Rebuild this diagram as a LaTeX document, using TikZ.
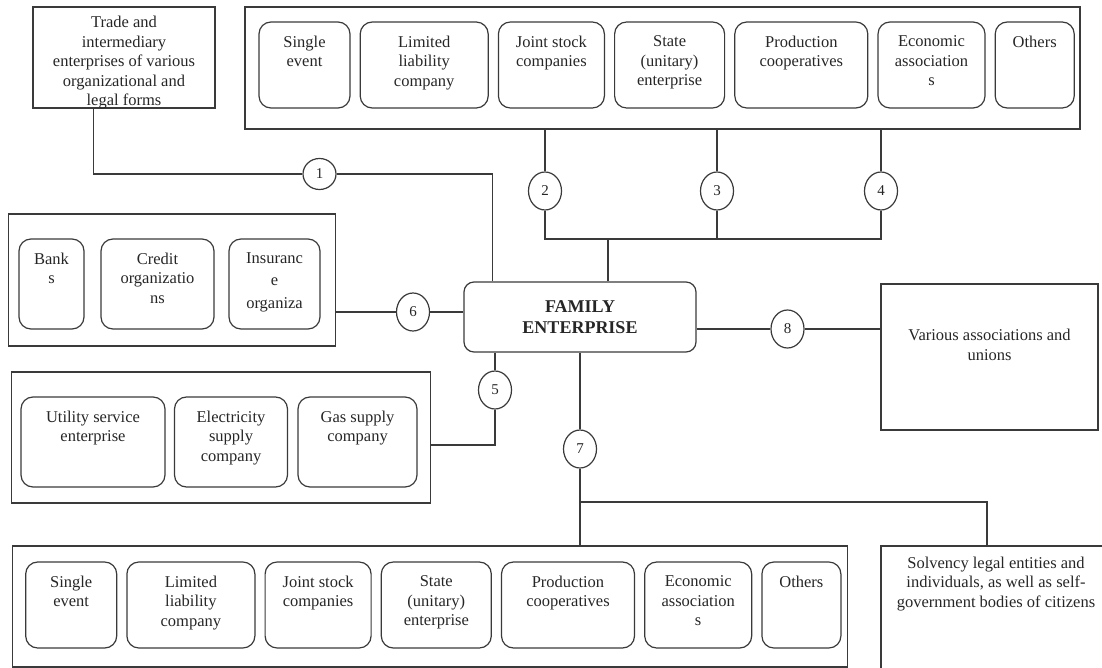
\documentclass[tikz,border=0pt]{standalone}
\usepackage{fontspec}
\setmainfont{Liberation Serif}
\usepackage{tikz}
\usetikzlibrary{shapes.geometric, positioning, calc}
\definecolor{linegray}{HTML}{3A3A3A}

\begin{document}
\begin{tikzpicture}[
    x=1pt, y=-1pt,
    node distance=9pt,
    every node/.style={font=\fontsize{16.5}{19.5}\selectfont, text=black!85},
    frame/.style={rectangle, draw=linegray, line width=1.3pt, inner sep=0},
    unit/.style={rectangle, draw=linegray, line width=1.2pt, rounded corners=12pt, inner sep=0},
    utext/.style={anchor=north, yshift=-#1, align=center, inner sep=0},
    utext/.default=14pt,
    numcirc/.style={ellipse, draw=linegray, line width=1.2pt, minimum width=33, minimum height=38, inner sep=0, font=\fontsize{15}{17}\selectfont},
    link/.style={draw=linegray, line width=1.3pt}
]
\useasboundingbox (0,0) rectangle (1102,668);

% trade enterprises
\node[frame, minimum width=182, minimum height=101, label={[utext=10pt]north:{Trade and\\intermediary\\enterprises of various\\organizational and\\legal forms}}] (trade) at (124,57.5) {};

% upper row of legal forms
\node[frame, minimum width=835, minimum height=122] (top) at (662.5,68) {};
\node[unit, minimum width=91, minimum height=86, label={[utext]north:{Single\\event}}] (t1) at (304.5,65) {};
\node[unit, minimum width=128, minimum height=86, right=of t1, label={[utext]north:{Limited\\liability\\company}}] (t2) {};
\node[unit, minimum width=106, minimum height=86, right=of t2, label={[utext]north:{Joint stock\\companies}}] (t3) {};
\node[unit, minimum width=110, minimum height=86, right=of t3, label={[utext]north:{State\\(unitary)\\enterprise}}] (t4) {};
\node[unit, minimum width=133, minimum height=86, right=of t4, label={[utext]north:{Production\\cooperatives}}] (t5) {};
\node[unit, minimum width=107, minimum height=86, right=of t5, label={[utext]north:{Economic\\association\\s}}] (t6) {};
\node[unit, minimum width=79, minimum height=86, right=of t6, label={[utext]north:{Others}}] (t7) {};

% financial organizations
\node[frame, minimum width=327, minimum height=132] (fin) at (172,280) {};
\node[unit, minimum width=65, minimum height=90, label={[utext]north:{Bank\\s}}] (f1) at (51.5,284) {};
\node[unit, minimum width=113, minimum height=90, label={[utext]north:{Credit\\organizatio\\ns}}] (f2) at (157.5,284) {};
\node[unit, minimum width=91, minimum height=90, label={[utext]north:{Insuranc\\[3pt]e\\[3pt]organiza}}] (f3) at (274.5,284) {};

% utilities
\node[frame, minimum width=419, minimum height=131] (util) at (220.7,437.5) {};
\node[unit, minimum width=144, minimum height=90, label={[utext]north:{Utility service\\enterprise}}] (u1) at (93,442) {};
\node[unit, minimum width=113, minimum height=90, label={[utext]north:{Electricity\\supply\\company}}] (u2) at (231,442) {};
\node[unit, minimum width=119, minimum height=90, label={[utext]north:{Gas supply\\company}}] (u3) at (357.5,442) {};

% centre
\node[unit, rounded corners=10pt, minimum width=232, minimum height=70, align=center, font=\fontsize{18}{21}\selectfont\bfseries] (family) at (580,317) {FAMILY\\ENTERPRISE};

% right side
\node[frame, minimum width=217, minimum height=146, label={[utext=46pt]north:{Various associations and\\unions}}] (various) at (989.5,357) {};
\node[frame, minimum width=230, minimum height=134, label={[utext=11pt]north:{Solvency legal entities and\\individuals, as well as self-\\government bodies of citizens}}] (solv) at (996,613) {};

% lower row of legal forms
\node[frame, minimum width=835, minimum height=121] (bottom) at (430,606.5) {};
\node[unit, minimum width=91, minimum height=86, label={[utext]north:{Single\\event}}] (b1) at (71.2,605) {};
\node[unit, minimum width=128, minimum height=86, right=of b1, label={[utext]north:{Limited\\liability\\company}}] (b2) {};
\node[unit, minimum width=106, minimum height=86, right=of b2, label={[utext]north:{Joint stock\\companies}}] (b3) {};
\node[unit, minimum width=110, minimum height=86, right=of b3, label={[utext]north:{State\\(unitary)\\enterprise}}] (b4) {};
\node[unit, minimum width=133, minimum height=86, right=of b4, label={[utext]north:{Production\\cooperatives}}] (b5) {};
\node[unit, minimum width=107, minimum height=86, right=of b5, label={[utext]north:{Economic\\association\\s}}] (b6) {};
\node[unit, minimum width=79, minimum height=86, right=of b6, label={[utext]north:{Others}}] (b7) {};

% numbered links
\node[numcirc, minimum height=31] (c1) at (319.5,174) {1};
\node[numcirc] (c2) at (545,191) {2};
\node[numcirc] (c3) at (717,191) {3};
\node[numcirc] (c4) at (881,191) {4};
\node[numcirc] (c5) at (495,390) {5};
\node[numcirc] (c6) at (413,312) {6};
\node[numcirc] (c7) at (580,449) {7};
\node[numcirc] (c8) at (787.5,329) {8};
\coordinate (bus) at (608,239);
\coordinate (j7) at (987,502);

\draw[link] ([xshift=-30.5pt]trade.south) |- (c1);
\draw[link] (c1) -| ([xshift=29pt]family.north west);
\draw[link] (c2 |- top.south) -- (c2);
\draw[link] (c3 |- top.south) -- (c3);
\draw[link] (c4 |- top.south) -- (c4);
\draw[link] (c2) |- (bus) -| (c4);
\draw[link] (c3) -- (c3 |- bus);
\draw[link] (bus) -- (bus |- family.north);
\draw[link] (fin.east |- c6) -- (c6) -- (family.west |- c6);
\draw[link] (c5 |- family.south) -- (c5) |- ([yshift=-7.5pt]util.east);
\draw[link] (family.south) -- (c7) -- (c7 |- bottom.north);
\draw[link] (c7 |- j7) -- (j7) -- (j7 |- solv.north);
\draw[link] (family.east |- c8) -- (c8) -- (various.west |- c8);
\end{tikzpicture}
\end{document}
